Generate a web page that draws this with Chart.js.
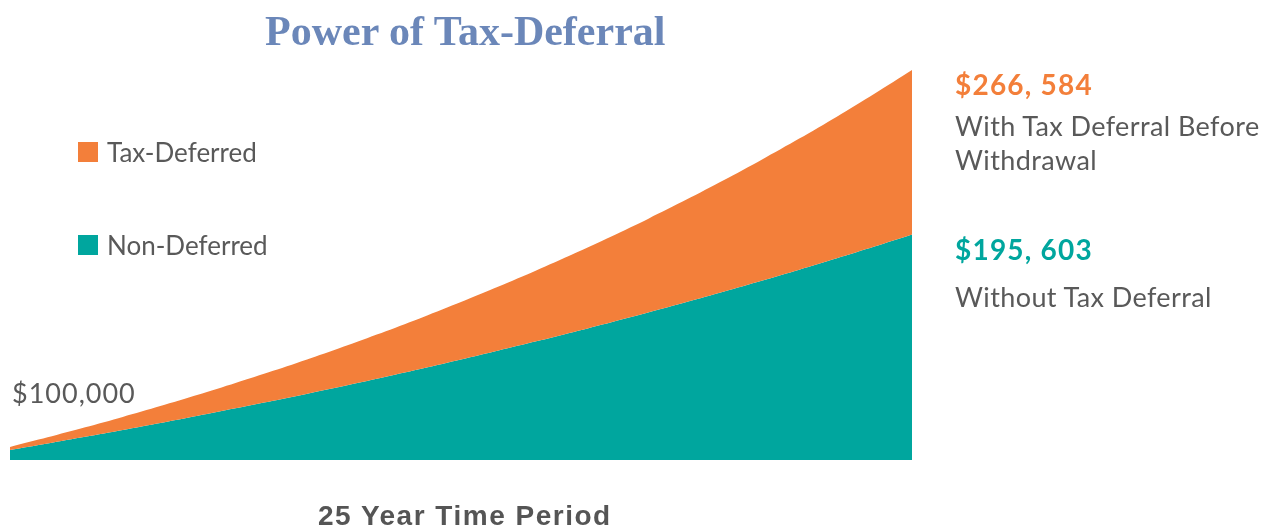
<!DOCTYPE html>
<html>
<head>
<meta charset="utf-8">
<script src="https://cdn.jsdelivr.net/npm/chart.js@4"></script>
<style>
  body { margin: 0; background: #fff; }
  #wrap { position: relative; width: 1264px; height: 529px; overflow: hidden; }
  #wrap canvas { position: absolute; left: 0; top: 0; }
  .t { position: absolute; white-space: nowrap; line-height: 1; font-family: Lato, "Open Sans", sans-serif; color: #595959; }
  .title { font-family: "Liberation Serif", "DejaVu Serif", serif; font-weight: bold; font-size: 42px; color: #6b87b9; }
  .big { font-size: 27px; letter-spacing: 0.4px; }
  .leg { font-size: 26px; }
  .num { font-size: 28px; font-weight: bold; letter-spacing: 1.2px; }
  .sw { position: absolute; width: 20px; height: 20px; }
</style>
</head>
<body>
<div id="wrap">
  <canvas id="chart" width="1264" height="529"></canvas>
  <div class="t title" style="left:265px; top:10px;">Power of Tax-Deferral</div>

  <div class="sw" style="left:78px; top:142px; background:#f37f3a;"></div>
  <div class="t leg" style="left:107px; top:139px;">Tax-Deferred</div>
  <div class="sw" style="left:78px; top:235px; background:#00a69e;"></div>
  <div class="t leg" style="left:107px; top:232px;">Non-Deferred</div>

  <div class="t big" style="left:12px; top:379px; letter-spacing:1px;">$100,000</div>

  <div class="t num" style="left:955px; top:70px; color:#f37f3a;">$266, 584</div>
  <div class="t big" style="left:955px; top:112px;">With Tax Deferral Before</div>
  <div class="t big" style="left:955px; top:146px;">Withdrawal</div>

  <div class="t num" style="left:955px; top:235px; color:#00a69e;">$195, 603</div>
  <div class="t big" style="left:955px; top:283px;">Without Tax Deferral</div>

  <div class="t" style="left:318px; top:502px; font-family:'Liberation Sans', Arial, sans-serif; font-size:28px; font-weight:bold; letter-spacing:1.5px; color:#555;">25 Year Time Period</div>
</div>
<script>
// years shown along the bottom (no tick labels drawn)
const years = ['1', '2', '3', '4', '5', '6', '7', '8', '9', '10', '11', '12', '13',
  '14', '15', '16', '17', '18', '19', '20', '21', '22', '23', '24', '25'];

// balances
const taxDeferred = [104000, 108160, 112486, 116986, 121665, 126532, 131593, 136857,
  142331, 148024, 153945, 160103, 166507, 173168, 180094, 187298, 194790, 202582,
  210685, 219112, 227877, 236992, 246472, 256330, 266584];
const nonDeferred = [102720, 105514, 108384, 111332, 114360, 117471, 120666, 123948,
  127319, 130782, 134339, 137993, 141746, 145602, 149562, 153630, 157809, 162101,
  166510, 171039, 175691, 180470, 185379, 190421, 195603];

const orange = '#f37f3a';
const teal = '#00a69e';

new Chart(document.getElementById('chart'), {
  type: 'line',
  data: {
    labels: years,
    datasets: [
      {
        label: 'Tax-Deferred',
        data: taxDeferred,
        fill: '+1',
        backgroundColor: orange,
        borderColor: orange,
        borderWidth: 0,
        pointRadius: 0,
        tension: 0.3
      },
      {
        label: 'Non-Deferred',
        data: nonDeferred,
        fill: 'start',
        backgroundColor: teal,
        borderColor: teal,
        borderWidth: 0,
        pointRadius: 0,
        tension: 0.3
      }
    ]
  },
  options: {
    responsive: false,
    animation: false,
    layout: { padding: { left: 10, right: 352, top: 70, bottom: 69 } },
    plugins: { legend: { display: false }, tooltip: { enabled: false } },
    scales: {
      x: { display: false },
      y: { display: false, min: 98400, max: 266584 }
    }
  }
});
</script>
</body>
</html>
